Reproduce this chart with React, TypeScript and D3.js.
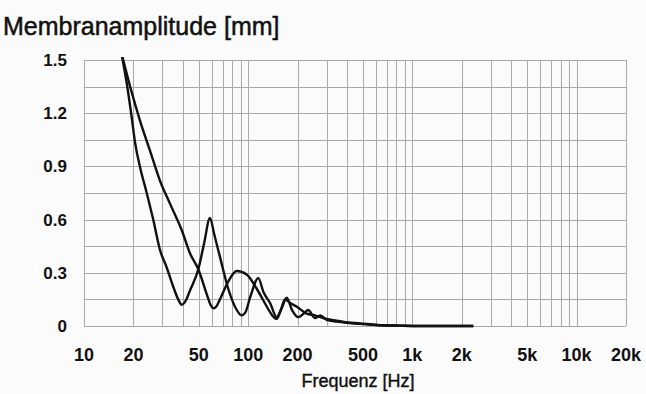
import React, { useEffect, useRef } from "react";
import * as d3 from "d3";

// two measured curves (frequency in Hz, excursion in mm)
const freqA = [16.8, 18.2, 19.5, 20.5, 21.9, 24.1, 26.4, 29, 31.9, 35, 37.5, 39.4, 41.5, 44.2, 49.7, 54, 58.5, 62, 67.3, 75.6, 84, 91.3, 96, 103, 115.3, 124, 135.9, 149.2, 160, 171.6, 185, 201.8, 218, 232, 255, 275, 300, 346, 400, 480, 606, 839, 1100, 2350];
const ampA = [1.55, 1.37, 1.18, 1.03, 0.9, 0.75, 0.6, 0.43, 0.33, 0.22, 0.15, 0.12, 0.14, 0.2, 0.32, 0.47, 0.61, 0.52, 0.39, 0.21, 0.1, 0.06, 0.075, 0.165, 0.27, 0.19, 0.13, 0.05, 0.1, 0.16, 0.09, 0.05, 0.07, 0.09, 0.045, 0.06, 0.035, 0.025, 0.018, 0.012, 0.006, 0.002, 0, 0];

const freqB = [16.8, 19.1, 21.9, 25.2, 29, 33.4, 39.4, 44.2, 49.7, 55.9, 59, 61.3, 64, 67.3, 75.6, 85.1, 97.9, 112.7, 129.7, 140, 149.2, 158, 167.5, 180, 197, 227, 255, 300, 346, 400, 480, 606, 839, 1100, 2350];
const ampB = [1.55, 1.35, 1.16, 0.99, 0.82, 0.69, 0.54, 0.41, 0.32, 0.18, 0.12, 0.1, 0.11, 0.15, 0.25, 0.31, 0.29, 0.21, 0.11, 0.06, 0.04, 0.09, 0.15, 0.13, 0.11, 0.07, 0.06, 0.04, 0.03, 0.02, 0.015, 0.006, 0.002, 0, 0];

const xTickValues = [10, 20, 50, 100, 200, 500, 1000, 2000, 5000, 10000, 20000];
const xTickLabels = ["10", "20", "50", "100", "200", "500", "1k", "2k", "5k", "10k", "20k"];
const yTickValues = [0, 0.3, 0.6, 0.9, 1.2, 1.5];
const yTickLabels = ["0", "0.3", "0.6", "0.9", "1.2", "1.5"];

const App = () => {
  const chartRef = useRef(null);

  useEffect(() => {
    const svg = d3.select(chartRef.current);
    svg.selectAll("*").remove();

    const width = 646;
    const height = 394;
    const margin = { top: 60, right: 20, bottom: 68, left: 84 };
    const font = "'Liberation Sans', Arial, sans-serif";
    const gridColor = "#a9a9a9";

    svg.append("rect").attr("width", width).attr("height", height).attr("fill", "#fbfbfb");

    const x = d3
      .scaleLog()
      .domain([10, 20000])
      .range([margin.left, width - margin.right]);
    const y = d3
      .scaleLinear()
      .domain([0, 1.5])
      .range([height - margin.bottom, margin.top]);

    // vertical grid: every 1..9 per decade
    const vLines = [];
    for (let dec = 10; dec <= 10000; dec *= 10) {
      for (let k = 1; k <= 9; k++) vLines.push(dec * k);
    }
    vLines.push(20000);
    svg
      .append("g")
      .selectAll("line")
      .data(vLines.filter((v) => v <= 20000))
      .join("line")
      .attr("x1", (d) => Math.round(x(d)) + 0.5)
      .attr("x2", (d) => Math.round(x(d)) + 0.5)
      .attr("y1", y(1.5))
      .attr("y2", y(0))
      .attr("stroke", gridColor)
      .attr("stroke-width", 1);

    // horizontal grid every 0.15
    svg
      .append("g")
      .selectAll("line")
      .data(d3.range(0, 11).map((i) => i * 0.15))
      .join("line")
      .attr("x1", x(10))
      .attr("x2", x(20000))
      .attr("y1", (d) => Math.round(y(d)) + 0.5)
      .attr("y2", (d) => Math.round(y(d)) + 0.5)
      .attr("stroke", gridColor)
      .attr("stroke-width", 1);

    // tick labels
    svg
      .append("g")
      .selectAll("text")
      .data(xTickValues)
      .join("text")
      .attr("x", (d) => x(d))
      .attr("y", 361)
      .attr("text-anchor", "middle")
      .attr("font-family", font)
      .attr("font-size", 18)
      .attr("font-weight", "bold")
      .attr("fill", "#111")
      .text((d, i) => xTickLabels[i]);

    svg
      .append("g")
      .selectAll("text")
      .data(yTickValues)
      .join("text")
      .attr("x", 67)
      .attr("y", (d) => y(d) + 6)
      .attr("text-anchor", "end")
      .attr("font-family", font)
      .attr("font-size", 17)
      .attr("font-weight", "bold")
      .attr("fill", "#111")
      .text((d, i) => yTickLabels[i]);

    svg
      .append("text")
      .attr("x", 358)
      .attr("y", 387)
      .attr("text-anchor", "middle")
      .attr("font-family", font)
      .attr("font-size", 18)
      .attr("fill", "#111")
      .attr("stroke", "#111")
      .attr("stroke-width", 0.4)
      .text("Frequenz [Hz]");

    svg
      .append("text")
      .attr("x", 3)
      .attr("y", 35)
      .attr("font-family", font)
      .attr("font-size", 25)
      .attr("fill", "#111")
      .attr("stroke", "#111")
      .attr("stroke-width", 0.5)
      .text("Membranamplitude [mm]");

    svg
      .append("clipPath")
      .attr("id", "plot-clip")
      .append("rect")
      .attr("x", margin.left)
      .attr("y", margin.top - 3)
      .attr("width", width - margin.left - margin.right)
      .attr("height", height - margin.top - margin.bottom + 6);

    const line = d3
      .line()
      .x((d) => x(d[0]))
      .y((d) => y(d[1]))
      .curve(d3.curveMonotoneX);

    const series = [
      freqA.map((f, i) => [f, ampA[i]]),
      freqB.map((f, i) => [f, ampB[i]]),
    ];

    svg
      .append("g")
      .attr("clip-path", "url(#plot-clip)")
      .selectAll("path")
      .data(series)
      .join("path")
      .attr("fill", "none")
      .attr("stroke", "#111")
      .attr("stroke-width", 2.4)
      .attr("stroke-linejoin", "round")
      .attr("d", line);
  }, []);

  return (
    <div style={{ position: "absolute", left: 0, top: 0 }}>
      <svg ref={chartRef} width={646} height={394}></svg>
    </div>
  );
};

export default App;
